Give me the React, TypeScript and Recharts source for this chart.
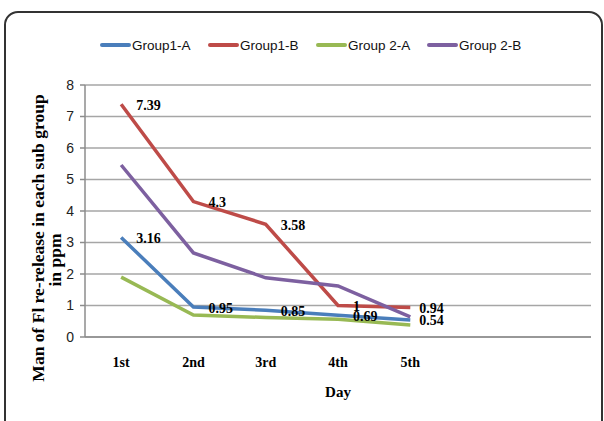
import React from "react";
import {
  LineChart,
  Line,
  XAxis,
  YAxis,
  CartesianGrid,
  Legend,
  LabelList,
} from "recharts";

// Category slots along the x axis (the last two stay empty)
const days = ["1st", "2nd", "3rd", "4th", "5th"];
const slotCount = 7;
const slotTicks = [0, 1, 2, 3, 4, 5, 6, 7];

// Mean Fl re-release (ppm) per sub group
const group1A = [3.16, 0.95, 0.85, 0.69, 0.54];
const group1B = [7.39, 4.3, 3.58, 1, 0.94];
const group2A = [1.9, 0.7, 0.62, 0.56, 0.38];
const group2B = [5.46, 2.67, 1.88, 1.62, 0.64];

const yTicks = [0, 1, 2, 3, 4, 5, 6, 7, 8];

const seriesInfo = [
  { key: "g1a", name: "Group1-A", color: "#4A7EBB", labelled: true },
  { key: "g1b", name: "Group1-B", color: "#BE4B48", labelled: true },
  { key: "g2a", name: "Group 2-A", color: "#98B954", labelled: false },
  { key: "g2b", name: "Group 2-B", color: "#7D60A0", labelled: false },
];

// Horizontal start of each legend entry
const legendLefts = [100, 208, 316, 427];

const data = days.map((day, i) => ({
  slot: i + 0.5,
  day,
  g1a: group1A[i],
  g1b: group1B[i],
  g2a: group2A[i],
  g2b: group2B[i],
}));

const serif = '"Liberation Serif", "Times New Roman", serif';
const sans = '"Liberation Sans", Arial, sans-serif';

const ValueLabel = (props: any) => {
  const { x, y, value, index } = props;
  const dx = index === days.length - 1 ? 9 : 15;
  return (
    <text
      x={x + dx}
      y={y + 1}
      textAnchor="start"
      dominantBaseline="central"
      fontFamily={serif}
      fontWeight="bold"
      fontSize={14}
      fill="#000"
    >
      {value}
    </text>
  );
};

const YTitle = () => (
  <g fontFamily={serif} fontWeight="bold" fontSize={17.5} fill="#000">
    <text
      x={38}
      y={238}
      transform="rotate(-90, 38, 238)"
      textAnchor="middle"
      dominantBaseline="central"
    >
      Man of Fl re-release in each sub group
    </text>
    <text
      x={55}
      y={260}
      transform="rotate(-90, 55, 260)"
      textAnchor="middle"
      dominantBaseline="central"
    >
      in ppm
    </text>
  </g>
);

const LegendContent = () => (
  <div
    style={{
      position: "relative",
      height: 18,
      fontFamily: sans,
      fontSize: 13.5,
      color: "#111",
    }}
  >
    {seriesInfo.map((s, i) => (
      <div
        key={s.key}
        style={{
          position: "absolute",
          left: legendLefts[i],
          top: 0,
          height: 18,
          display: "flex",
          alignItems: "center",
          whiteSpace: "nowrap",
        }}
      >
        <span
          style={{
            display: "inline-block",
            width: 31,
            height: 4,
            background: s.color,
            borderRadius: 2,
            marginRight: 1,
          }}
        />
        <span>{s.name}</span>
      </div>
    ))}
  </div>
);

export default function App() {
  return (
    <div
      style={{
        position: "absolute",
        left: 0,
        top: 0,
        width: 604,
        height: 421,
        background: "#fff",
        overflow: "hidden",
      }}
    >
      <LineChart
        width={604}
        height={421}
        data={data}
        margin={{ top: 85, right: 13, bottom: 0, left: 0 }}
      >
        <CartesianGrid vertical={false} stroke="#a6a6a6" strokeWidth={1.3} />
        <XAxis
          xAxisId="a"
          dataKey="slot"
          type="number"
          domain={[0, slotCount]}
          ticks={slotTicks}
          interval={0}
          tick={false}
          tickSize={6}
          height={1}
          axisLine={{ stroke: "#8c8c8c", strokeWidth: 1.5 }}
          tickLine={{ stroke: "#8c8c8c", strokeWidth: 1.5 }}
        />
        <XAxis
          xAxisId="b"
          dataKey="slot"
          type="number"
          domain={[0, slotCount]}
          ticks={data.map((d) => d.slot)}
          interval={0}
          tickFormatter={(v: number) => days[Math.floor(v)] ?? ""}
          axisLine={false}
          tickLine={false}
          tickSize={5}
          tickMargin={14}
          height={83}
          tick={{
            fontFamily: serif,
            fontWeight: "bold",
            fontSize: 14,
            fill: "#000",
          }}
          label={{
            value: "Day",
            position: "insideBottom",
            offset: 24,
            fontFamily: serif,
            fontWeight: "bold",
            fontSize: 15,
            fill: "#000",
          }}
        />
        <YAxis
          domain={[0, 8]}
          ticks={yTicks}
          interval={0}
          width={85}
          tickSize={5}
          tickMargin={6}
          axisLine={{ stroke: "#8c8c8c", strokeWidth: 1.5 }}
          tickLine={{ stroke: "#8c8c8c", strokeWidth: 1.5 }}
          tick={{ fontFamily: sans, fontSize: 14, fill: "#222" }}
          label={{ content: () => <YTitle /> }}
        />
        <Legend
          verticalAlign="middle"
          layout="horizontal"
          wrapperStyle={{ top: 36, left: 0, width: 604 }}
          content={() => <LegendContent />}
        />
        {seriesInfo.map((s) => (
          <Line
            key={s.key}
            xAxisId="a"
            dataKey={s.key}
            name={s.name}
            stroke={s.color}
            strokeWidth={3.5}
            dot={false}
            activeDot={false}
            isAnimationActive={false}
          >
            {s.labelled && (
              <LabelList dataKey={s.key} content={<ValueLabel />} />
            )}
          </Line>
        ))}
      </LineChart>
      <div
        style={{
          position: "absolute",
          left: 4,
          top: 11,
          width: 595,
          height: 420,
          border: "2px solid #333",
          borderRadius: 14,
          pointerEvents: "none",
        }}
      />
    </div>
  );
}
